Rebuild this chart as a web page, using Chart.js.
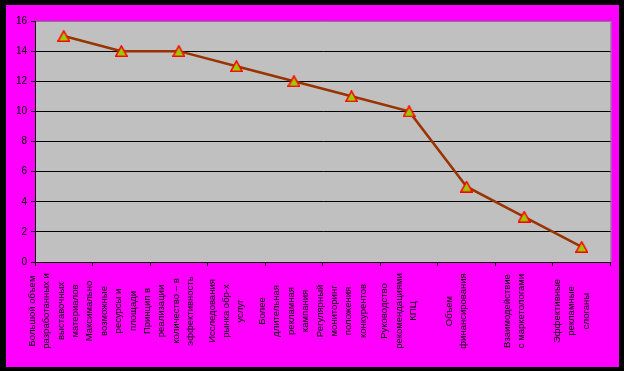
<!DOCTYPE html>
<html>
<head>
<meta charset="utf-8">
<script src="https://cdn.jsdelivr.net/npm/chart.js@4.4.1/dist/chart.umd.min.js"></script>
<style>
html,body{margin:0;padding:0;background:#000;width:624px;height:371px;overflow:hidden;}
#c{position:absolute;left:6px;top:5px;background:#FF00FF;}
</style>
</head>
<body>
<canvas id="c" width="613" height="362"></canvas>
<script>
const categories = [
  ["Большой объем", "разработанных и", "выставочных", "материалов"],
  ["Максимально", "возможные", "ресурсы и", "площади"],
  ["Принцип в", "реализации", "количество – в", "эффективность"],
  ["Исследования", "рынка обр-х", "услуг"],
  ["Более", "длительная", "рекламная", "кампания"],
  ["Регулярный", "мониторинг", "положения", "конкурентов"],
  ["Руководство", "рекомендациями", "КПЦ"],
  ["Объем", "финансирования"],
  ["Взаимодействие", "с маркетологами"],
  ["Эффективные", "рекламные", "слоганы"]
];
const values = [15, 14, 14, 13, 12, 11, 10, 5, 3, 1];
const yMin = 0, yMax = 16, yStep = 2;

const FONT = "Liberation Sans, Arial, sans-serif";

// triangle marker
const tri = document.createElement('canvas');
tri.width = 13; tri.height = 12;
(function(){
  const t = tri.getContext('2d');
  t.beginPath();
  t.moveTo(6.5, 0.8);
  t.lineTo(12.2, 11.2);
  t.lineTo(0.8, 11.2);
  t.closePath();
  t.fillStyle = '#99CC00';
  t.fill();
  t.lineWidth = 1.5;
  t.strokeStyle = '#FF0000';
  t.stroke();
})();

const plotBg = {
  id: 'plotBg',
  beforeDraw(chart) {
    const {ctx, chartArea: a} = chart;
    ctx.save();
    ctx.fillStyle = '#C0C0C0';
    ctx.fillRect(a.left, a.top, a.right - a.left, a.bottom - a.top);
    ctx.restore();
  },
  beforeDatasetsDraw(chart) {
    const {ctx, chartArea: a} = chart;
    ctx.save();
    ctx.strokeStyle = '#808080';
    ctx.lineWidth = 1;
    ctx.beginPath();
    ctx.moveTo(Math.round(a.right) + 0.5, a.top);
    ctx.lineTo(Math.round(a.right) + 0.5, a.bottom);
    ctx.stroke();
    ctx.restore();
  }
};

const xLabels = {
  id: 'xLabels',
  afterDraw(chart) {
    const {ctx, chartArea: a} = chart;
    const xs = chart.scales.x;
    ctx.save();
    ctx.fillStyle = '#000';
    ctx.font = '9.5px ' + FONT;
    ctx.textAlign = 'center';
    ctx.textBaseline = 'middle';
    const yc = a.bottom + 49;
    const sp = 14.4;
    categories.forEach((lines, i) => {
      const cx = xs.getPixelForValue(i) - 10;
      const n = lines.length;
      lines.forEach((ln, j) => {
        const lx = cx + (j - (n - 1) / 2) * sp;
        ctx.save();
        ctx.translate(lx, yc);
        ctx.rotate(-Math.PI / 2);
        ctx.fillText(ln, 0, 0);
        ctx.restore();
      });
    });
    ctx.restore();
  }
};

new Chart(document.getElementById('c'), {
  type: 'line',
  data: {
    labels: categories,
    datasets: [{
      data: values,
      borderColor: '#993300',
      borderWidth: 2.5,
      tension: 0,
      pointStyle: tri,
      pointRadius: 6,
      pointHoverRadius: 6
    }]
  },
  options: {
    responsive: false,
    devicePixelRatio: 1,
    animation: false,
    events: [],
    layout: { padding: { top: 16, right: 8, left: 0, bottom: 0 } },
    plugins: { legend: { display: false }, tooltip: { enabled: false } },
    scales: {
      x: {
        type: 'category',
        offset: true,
        afterFit(s) { s.height = 105; },
        ticks: { display: false },
        grid: { display: true, drawOnChartArea: false, drawTicks: true, tickLength: 4, color: '#000', offset: true },
        border: { display: true, color: '#000', width: 1 }
      },
      y: {
        min: yMin, max: yMax,
        afterFit(s) { s.width = 29; },
        ticks: { stepSize: yStep, color: '#000', font: { family: FONT, size: 10 }, padding: 4 },
        grid: {
          color: (c) => (c.tick && c.tick.value === yMax) ? '#808080' : '#000',
          tickColor: '#000',
          tickLength: 4,
          lineWidth: 1
        },
        border: { display: true, color: '#000', width: 1 }
      }
    }
  },
  plugins: [plotBg, xLabels]
});
</script>
</body>
</html>
